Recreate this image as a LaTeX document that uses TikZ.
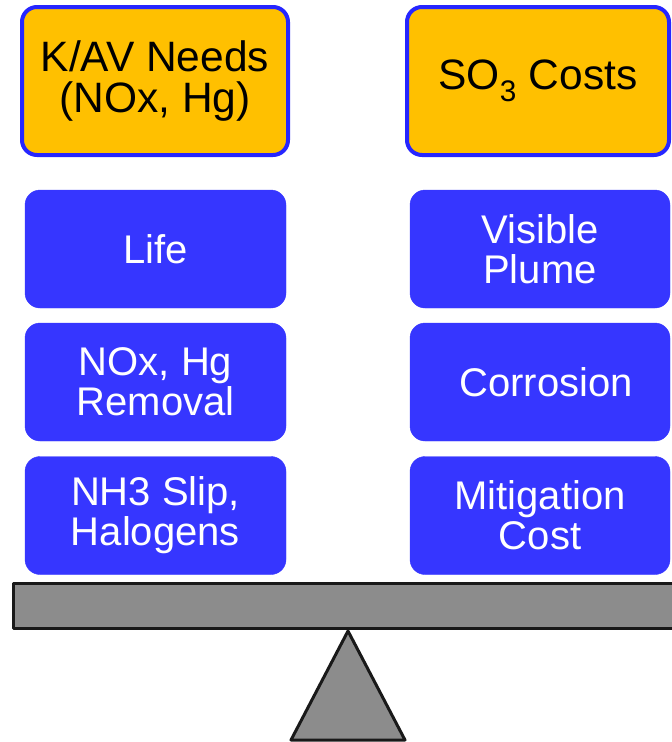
\documentclass[tikz,border=0pt]{standalone}
\usepackage{fontspec}
\setmainfont{Liberation Sans}
\usepackage{tikz}
\usetikzlibrary{positioning}
\definecolor{goalorange}{HTML}{FFC000}
\definecolor{frameblue}{HTML}{2626FF}
\definecolor{boxblue}{HTML}{3636FF}
\definecolor{beamgray}{HTML}{8C8C8C}

\begin{document}
\begin{tikzpicture}[x=1pt, y=-1pt,
    every node/.style={font=\fontsize{40}{40}\selectfont, align=center, inner sep=0pt},
    goalbox/.style={draw=frameblue, fill=goalorange, line width=4pt, rounded corners=15pt,
      minimum height=148pt, text=black, font=\fontsize{42.5}{41}\selectfont},
    itembox/.style={draw=boxblue, fill=boxblue, rounded corners=15pt,
      minimum height=118pt, text=white}]
  \useasboundingbox (0,0) rectangle (672,742);
  \clip (0,0) rectangle (672,742);

  % Goals on top of each side
  \node[goalbox, minimum width=266pt] (needs) at (155,81) {K/AV Needs\\(NOx, Hg)};
  \node[goalbox, minimum width=262pt] (costs) at (538,81) {SO\textsubscript{3} Costs};

  % Left pan
  \node[itembox, minimum width=261pt] (life) at (155.5,249) {Life};
  \node[itembox, minimum width=261pt] (removal) at (155.5,382) {NOx, Hg\\Removal};
  \node[itembox, minimum width=261pt] (slip) at (155.5,515.5) {NH3 Slip,\\Halogens};

  % Right pan
  \node[itembox, minimum width=260pt] (plume) at (540,249) {Visible\\Plume};
  \node[itembox, minimum width=260pt] (corrosion) at (540,382) {\hspace*{12pt}Corrosion};
  \node[itembox, minimum width=260pt] (mitigation) at (540,515.5) {Mitigation\\Cost};

  % Beam and fulcrum
  \draw[fill=beamgray, draw=black!90, line width=3pt, line join=round]
        (13.5,583.5) rectangle (690,628.5);
  \draw[fill=beamgray, draw=black!90, line width=3pt, line join=round]
        (348,631) -- (405,740) -- (291,740) -- cycle;
\end{tikzpicture}
\end{document}
